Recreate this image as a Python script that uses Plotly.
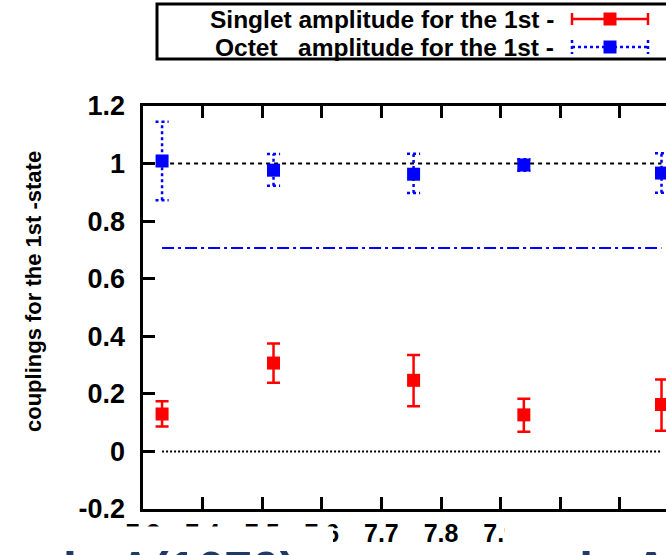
import plotly.graph_objects as go

# ---------------- data ----------------
x_vals = [7.332, 7.519, 7.754, 7.939, 8.170]

singlet = [0.130, 0.307, 0.247, 0.127, 0.163]
singlet_hi = [0.174, 0.375, 0.335, 0.183, 0.250]
singlet_lo = [0.087, 0.239, 0.157, 0.068, 0.072]

octet = [1.009, 0.977, 0.963, 0.995, 0.967]
octet_hi = [1.145, 1.033, 1.034, 1.015, 1.036]
octet_lo = [0.873, 0.923, 0.898, 0.975, 0.899]

ref_one = 1.0
ref_zero = 0.0
ref_sqrt_half = 0.7071

x_ticks = [7.3, 7.4, 7.5, 7.6, 7.7, 7.8, 7.9, 8.0, 8.1, 8.2]
x_ticktext = ["7.3", "7.4", "7.5", "7.6", "7.7", "7.8", "7.9", "8", "8.1", "8.2"]
y_ticks = [-0.2, 0.0, 0.2, 0.4, 0.6, 0.8, 1.0, 1.2]
y_ticktext = ["-0.2", "0", "0.2", "0.4", "0.6", "0.8", "1", "1.2"]

legend_singlet = "Singlet amplitude for the 1st -"
legend_octet = "Octet\u00a0\u00a0\u00a0amplitude for the 1st -"
y_title = "couplings for the 1st -state"
slide_text_left = "la \u039b(1670)"
slide_text_right = "ude A"

# ---------------- layout geometry ----------------
W, H = 666, 555
ML, MR, MT, MB = 143, 0, 106, 46
PW, PH = W - ML - MR, H - MT - MB
X0 = 7.3
PX_PER_UNIT = 596.0
x_range = [X0, X0 + PW / PX_PER_UNIT]


def px(x):
    return (x - ML) / PW


def py(y):
    return (H - MB - y) / PH


FONT = "Liberation Sans, Arial, Helvetica, sans-serif"
RED = "#ff0000"
BLUE = "#0000ff"
NAVY = "#1f3a68"
LABEL_GAP = "\u00a0\u200a"

fig = go.Figure()

# reference lines
x_span = [x_vals[0], x_vals[-1]]
fig.add_trace(go.Scatter(x=x_span, y=[ref_one, ref_one], mode="lines",
                         line=dict(color="black", width=2, dash="4px,4px"),
                         hoverinfo="skip", showlegend=False))
fig.add_trace(go.Scatter(x=x_span, y=[ref_zero, ref_zero], mode="lines",
                         line=dict(color="black", width=2, dash="2px,2px"),
                         hoverinfo="skip", showlegend=False))
fig.add_trace(go.Scatter(x=x_span, y=[ref_sqrt_half, ref_sqrt_half], mode="lines",
                         line=dict(color=BLUE, width=2, dash="12px,4px,3px,4px"),
                         hoverinfo="skip", showlegend=False))

# singlet with solid error bars
fig.add_trace(go.Scatter(
    x=x_vals, y=singlet, mode="markers",
    marker=dict(symbol="square", size=13, color=RED),
    error_y=dict(type="data", symmetric=False,
                 array=[h - v for h, v in zip(singlet_hi, singlet)],
                 arrayminus=[v - l for v, l in zip(singlet, singlet_lo)],
                 color=RED, thickness=2.5, width=6.5),
    name=legend_singlet, showlegend=False))

# octet with dotted error bars (drawn as line segments)
cap = 0.011
ex, ey = [], []
for xv, lo, hi in zip(x_vals, octet_lo, octet_hi):
    ex += [xv, xv, None, xv - cap, xv + cap, None, xv - cap, xv + cap, None]
    ey += [lo, hi, None, hi, hi, None, lo, lo, None]
fig.add_trace(go.Scatter(x=ex, y=ey, mode="lines",
                         line=dict(color=BLUE, width=2.5, dash="3px,3px"),
                         hoverinfo="skip", showlegend=False))
fig.add_trace(go.Scatter(
    x=x_vals, y=octet, mode="markers",
    marker=dict(symbol="square", size=13, color=BLUE),
    name=legend_octet, showlegend=False))

shapes = []
# cover boxes (slide overlay hiding part of the tick labels)
shapes.append(dict(type="rect", xref="paper", yref="paper",
                   x0=px(-5), x1=px(333), y0=py(570), y1=py(526.5),
                   fillcolor="white", line=dict(width=0), layer="above"))
shapes.append(dict(type="rect", xref="paper", yref="paper",
                   x0=px(505), x1=px(680), y0=py(570), y1=py(518),
                   fillcolor="white", line=dict(width=0), layer="above"))

# legend box
shapes.append(dict(type="rect", xref="paper", yref="paper",
                   x0=px(157), x1=px(690), y0=py(59), y1=py(4),
                   line=dict(color="black", width=3), fillcolor="rgba(0,0,0,0)",
                   layer="above"))
# singlet legend sample
r_y = 19
shapes.append(dict(type="line", xref="paper", yref="paper",
                   x0=px(572), x1=px(648), y0=py(r_y), y1=py(r_y),
                   line=dict(color=RED, width=2.5), layer="above"))
for xc in (572, 648):
    shapes.append(dict(type="line", xref="paper", yref="paper",
                       x0=px(xc), x1=px(xc), y0=py(r_y - 6), y1=py(r_y + 6),
                       line=dict(color=RED, width=2.5), layer="above"))
shapes.append(dict(type="rect", xref="paper", yref="paper",
                   x0=px(603.5), x1=px(616.5), y0=py(r_y + 6.5), y1=py(r_y - 6.5),
                   fillcolor=RED, line=dict(width=0), layer="above"))
# octet legend sample
b_y = 47
shapes.append(dict(type="line", xref="paper", yref="paper",
                   x0=px(572), x1=px(648), y0=py(b_y), y1=py(b_y),
                   line=dict(color=BLUE, width=2.5, dash="3px,3px"), layer="above"))
for xc in (572, 648):
    shapes.append(dict(type="line", xref="paper", yref="paper",
                       x0=px(xc), x1=px(xc), y0=py(b_y - 7), y1=py(b_y + 7),
                       line=dict(color=BLUE, width=2.5, dash="3px,3px"), layer="above"))
shapes.append(dict(type="rect", xref="paper", yref="paper",
                   x0=px(603.5), x1=px(616.5), y0=py(b_y + 6.5), y1=py(b_y - 6.5),
                   fillcolor=BLUE, line=dict(width=0), layer="above"))

annotations = [
    dict(text=legend_singlet, xref="paper", yref="paper", x=px(556), y=py(r_y),
         xanchor="right", yanchor="middle", showarrow=False,
         font=dict(family=FONT, size=24.5, color="black", weight="bold")),
    dict(text=legend_octet, xref="paper", yref="paper", x=px(556), y=py(b_y),
         xanchor="right", yanchor="middle", showarrow=False,
         font=dict(family=FONT, size=24.5, color="black", weight="bold")),
    dict(text=y_title, xref="paper", yref="paper", x=px(33), y=py(292),
         xanchor="center", yanchor="middle", textangle=-90, showarrow=False,
         font=dict(family=FONT, size=22, color="black", weight="bold")),
    dict(text=slide_text_left, xref="paper", yref="paper", x=px(61), y=py(540),
         xanchor="left", yanchor="top", showarrow=False,
         font=dict(family=FONT, size=50, color=NAVY, weight="bold")),
    dict(text=slide_text_right, xref="paper", yref="paper", x=px(530), y=py(540),
         xanchor="left", yanchor="top", showarrow=False,
         font=dict(family=FONT, size=50, color=NAVY, weight="bold")),
]

axis_common = dict(showgrid=False, zeroline=False, showline=True, linecolor="black",
                   linewidth=2.5, ticks="inside", ticklen=12, tickwidth=2.5,
                   tickcolor="black")

fig.update_layout(
    width=W, height=H,
    margin=dict(l=ML, r=MR, t=MT, b=MB, pad=0),
    paper_bgcolor="white", plot_bgcolor="white",
    showlegend=False,
    xaxis=dict(range=x_range, tickvals=x_ticks, ticktext=x_ticktext,
               mirror="ticks",
               tickfont=dict(family=FONT, size=25, color="black", weight="bold"),
               **axis_common),
    yaxis=dict(range=[-0.2, 1.2], tickvals=y_ticks,
               ticktext=[t + LABEL_GAP for t in y_ticktext],
               mirror=False,
               tickfont=dict(family=FONT, size=27, color="black", weight="bold"),
               **axis_common),
    shapes=shapes,
    annotations=annotations,
)

fig.write_html("out.html")
